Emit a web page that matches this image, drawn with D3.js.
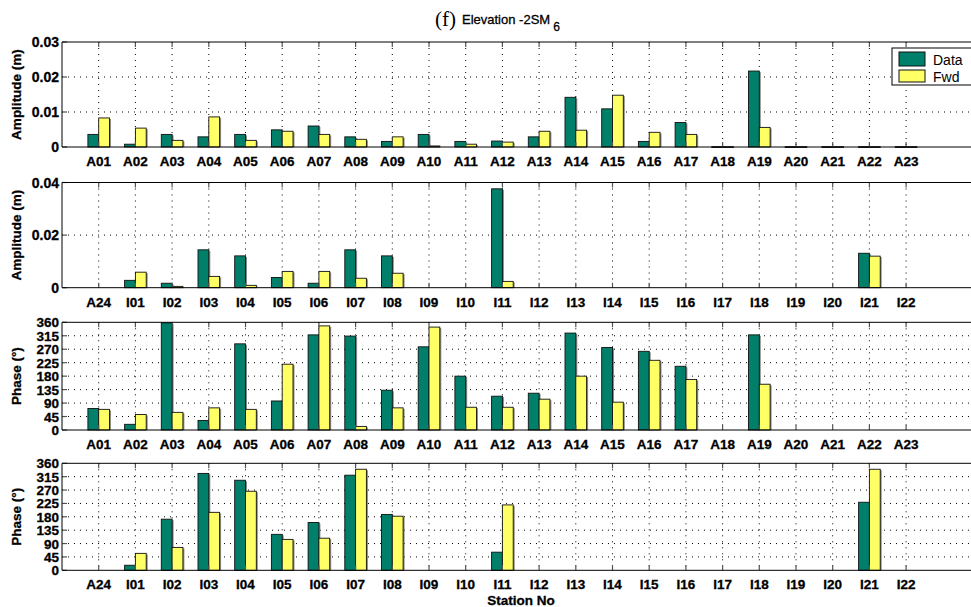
<!DOCTYPE html>
<html>
<head>
<meta charset="utf-8">
<script src="https://cdn.jsdelivr.net/npm/d3@7"></script>
<style>
  body { margin: 0; background: #fff; }
  svg text { font-family: "Liberation Sans", Arial, sans-serif; font-weight: bold; }
  svg text.heavy { stroke: #000; stroke-width: 0.3; }
</style>
</head>
<body>
<div id="chart"></div>
<script>
// station names
var stationsA = ["A01","A02","A03","A04","A05","A06","A07","A08","A09","A10","A11","A12",
                 "A13","A14","A15","A16","A17","A18","A19","A20","A21","A22","A23"];
var stationsI = ["A24","I01","I02","I03","I04","I05","I06","I07","I08","I09","I10","I11",
                 "I12","I13","I14","I15","I16","I17","I18","I19","I20","I21","I22"];

// amplitude (m)
var ampDataA = [0.0036,0.0008,0.0036,0.0029,0.0036,0.0049,0.0060,0.0029,0.0016,0.0036,0.0016,0.0017,
                0.0029,0.0142,0.0109,0.0016,0.0070,0.0001,0.0217,0.0001,0.0001,0.0001,0.0001];
var ampFwdA  = [0.0083,0.0054,0.0019,0.0086,0.0019,0.0045,0.0036,0.0022,0.0029,0.0003,0.0008,0.0014,
                0.0045,0.0048,0.0148,0.0042,0.0036,0.0001,0.0056,0.0001,0.0001,0.0001,0.0001];
var ampDataI = [null,0.0028,0.0017,0.0144,0.0121,0.0039,0.0017,0.0144,0.0121,null,null,0.0376,
                null,null,null,null,null,null,null,null,null,0.0131,null];
var ampFwdI  = [null,0.0059,0.0005,0.0043,0.0009,0.0062,0.0062,0.0036,0.0055,null,null,0.0024,
                null,null,null,null,null,null,null,null,null,0.0120,null];

// phase (deg)
var phaDataA = [72,19,358,32,288,97,318,314,133,278,180,113,123,324,276,263,213,null,318,null,null,null,null];
var phaFwdA  = [69,52,59,74,69,220,348,12,74,344,76,76,103,180,93,233,169,null,153,null,null,null,null];
var phaDataI = [null,17,172,326,303,121,161,320,188,null,null,61,null,null,null,null,null,null,null,null,null,229,null];
var phaFwdI  = [null,57,77,195,266,104,108,340,182,null,null,220,null,null,null,null,null,null,null,null,null,340,null];

// tick labels
var ampTicksA = [0, 0.01, 0.02, 0.03];
var ampTicksI = [0, 0.02, 0.04];
var phaseTicks = [0, 45, 90, 135, 180, 225, 270, 315, 360];

var W = 971, H = 607;
var green = "#00806a", yellow = "#ffff66";

var svg = d3.select("#chart").append("svg")
    .attr("width", W)
    .attr("height", H);

var left = 62, step = 36.7;
var x = d3.scaleLinear().domain([0, 25]).range([left, left + 25 * step]);

var ampFmt = function(d){ return d === 0 ? "0" : d.toFixed(2); };

var panels = [
    {top: 42,    bottom: 147,   max: 0.03, ticks: ampTicksA,  fmt: ampFmt, names: stationsA, data: ampDataA, fwd: ampFwdA, label: "Amplitude (m)", legend: true},
    {top: 182.5, bottom: 287.7, max: 0.04, ticks: ampTicksI,  fmt: ampFmt, names: stationsI, data: ampDataI, fwd: ampFwdI, label: "Amplitude (m)"},
    {top: 322.3, bottom: 430,   max: 360,  ticks: phaseTicks, fmt: String, names: stationsA, data: phaDataA, fwd: phaFwdA, label: "Phase (°)"},
    {top: 463.3, bottom: 570.3, max: 360,  ticks: phaseTicks, fmt: String, names: stationsI, data: phaDataI, fwd: phaFwdI, label: "Phase (°)"}
];

var barW = 10.8;

panels.forEach(function (p) {
    var y = d3.scaleLinear().domain([0, p.max]).range([p.bottom, p.top]);
    var g = svg.append("g");
    var idx = d3.range(1, p.names.length + 1);

    // grid
    g.selectAll(null)
        .data(p.ticks.slice(1, -1))
        .enter().append("line")
        .attr("x1", left).attr("x2", W)
        .attr("y1", function(d){ return y(d); })
        .attr("y2", function(d){ return y(d); })
        .attr("stroke", "#000").attr("stroke-width", 1)
        .attr("stroke-dasharray", "1,5");
    g.selectAll(null)
        .data(idx)
        .enter().append("line")
        .attr("x1", function(d){ return x(d); })
        .attr("x2", function(d){ return x(d); })
        .attr("y1", p.top).attr("y2", p.bottom)
        .attr("stroke", "#000").attr("stroke-width", 1)
        .attr("stroke-dasharray", "1,5");

    // bars
    var rows = idx.map(function(i){ return {i: i, d: p.data[i-1], f: p.fwd[i-1]}; });
    [["d", -barW, green], ["f", 0, yellow]].forEach(function (s) {
        var recs = rows.filter(function(r){ return r[s[0]] != null; });
        // shadow
        g.selectAll(null).data(recs).enter().append("rect")
            .attr("x", function(r){ return x(r.i) + s[1] + 1.5; })
            .attr("y", function(r){ return y(r[s[0]]) + 1; })
            .attr("width", barW)
            .attr("height", function(r){ return Math.max(0, p.bottom - y(r[s[0]]) - 1); })
            .attr("fill", "#8a8a8a");
        g.selectAll(null).data(recs).enter().append("rect")
            .attr("x", function(r){ return x(r.i) + s[1]; })
            .attr("y", function(r){ return y(r[s[0]]); })
            .attr("width", barW)
            .attr("height", function(r){ return Math.max(0.8, p.bottom - y(r[s[0]])); })
            .attr("fill", s[2])
            .attr("stroke", "#111").attr("stroke-width", 0.9);
    });

    // ticks inside
    idx.forEach(function (i) {
        g.append("line").attr("x1", x(i)).attr("x2", x(i)).attr("y1", p.top).attr("y2", p.top + 5)
            .attr("stroke", "#555").attr("stroke-width", 1.2);
        g.append("line").attr("x1", x(i)).attr("x2", x(i)).attr("y1", p.bottom).attr("y2", p.bottom - 5)
            .attr("stroke", "#555").attr("stroke-width", 1.2);
    });
    p.ticks.forEach(function (t) {
        g.append("line").attr("x1", left).attr("x2", left + 5).attr("y1", y(t)).attr("y2", y(t))
            .attr("stroke", "#555").attr("stroke-width", 1.2);
    });

    // box
    g.append("line").attr("x1", left).attr("x2", W).attr("y1", p.top).attr("y2", p.top).attr("stroke", "#000");
    g.append("line").attr("x1", left).attr("x2", W).attr("y1", p.bottom).attr("y2", p.bottom).attr("stroke", "#000");
    g.append("line").attr("x1", left).attr("x2", left).attr("y1", p.top).attr("y2", p.bottom).attr("stroke", "#000");

    // y tick labels
    g.selectAll(null).data(p.ticks).enter().append("text")
        .attr("class", "heavy")
        .attr("x", left - 3)
        .attr("y", function(d){ return y(d) + 5; })
        .attr("text-anchor", "end")
        .attr("font-size", p.max === 360 ? 13.5 : 14)
        .text(p.fmt);

    // x tick labels
    g.selectAll(null).data(idx).enter().append("text")
        .attr("class", "heavy")
        .attr("x", function(d){ return x(d); })
        .attr("y", p.bottom + 19)
        .attr("text-anchor", "middle")
        .attr("font-size", 13.5)
        .text(function(d){ return p.names[d-1]; });

    // y label
    g.append("text")
        .attr("class", "heavy")
        .attr("transform", "translate(" + 21 + "," + ((p.top + p.bottom) / 2) + ") rotate(-90)")
        .attr("text-anchor", "middle")
        .attr("font-size", 13.5)
        .text(p.label);

    if (p.legend) {
        var lg = g.append("g");
        lg.append("rect").attr("x", 892).attr("y", 48).attr("width", 85).attr("height", 37)
            .attr("fill", "#fff").attr("stroke", "#000");
        lg.append("rect").attr("x", 899).attr("y", 52).attr("width", 26).attr("height", 14)
            .attr("fill", green).attr("stroke", "#111");
        lg.append("rect").attr("x", 899).attr("y", 70).attr("width", 26).attr("height", 12)
            .attr("fill", yellow).attr("stroke", "#111");
        lg.append("text").attr("x", 933).attr("y", 65).attr("font-size", 14).style("font-weight", "normal").text("Data");
        lg.append("text").attr("x", 933).attr("y", 82).attr("font-size", 14).style("font-weight", "normal").text("Fwd");
    }
});

// title
var title = svg.append("text").attr("x", 435).attr("y", 26).style("font-weight", "normal");
title.append("tspan").style("font-family", "'Liberation Serif', 'Times New Roman', serif")
    .attr("font-size", 21).text("(f)");
title.append("tspan").attr("dx", 6).attr("dy", -2).attr("font-size", 13)
    .attr("stroke", "#000").attr("stroke-width", 0.3).text("Elevation -2SM");
title.append("tspan").attr("dx", 3).attr("dy", 7).attr("font-size", 12)
    .attr("stroke", "#000").attr("stroke-width", 0.3).text("6");

// x label
svg.append("text").attr("class", "heavy").attr("x", 521).attr("y", 605).attr("text-anchor", "middle")
    .attr("font-size", 13.5).text("Station No");
</script>
</body>
</html>
